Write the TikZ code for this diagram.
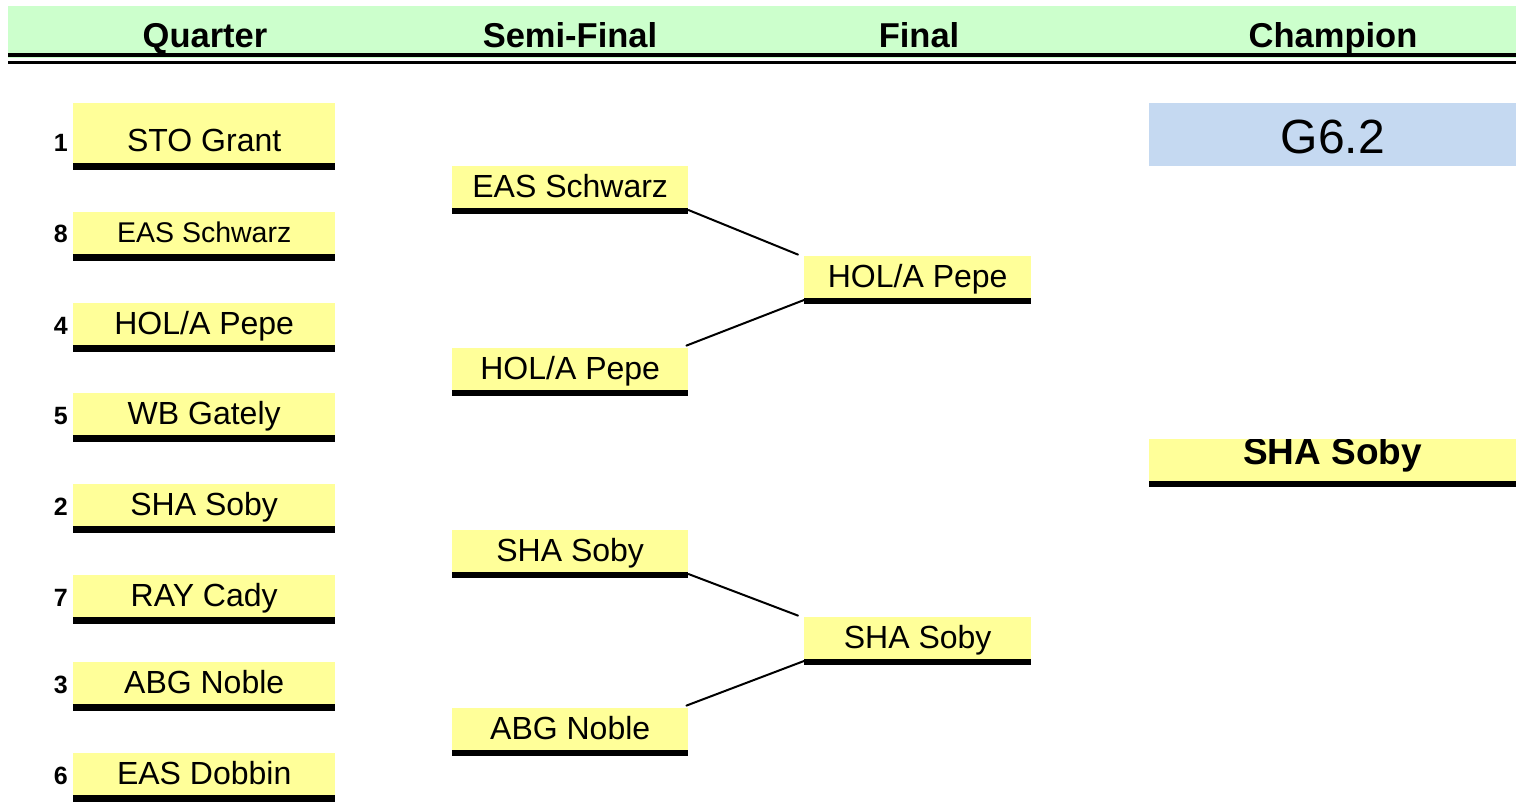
\documentclass[tikz,border=0pt]{standalone}
\usepackage{fontspec}
\setmainfont{Liberation Sans}
\usepackage{xcolor}
\usetikzlibrary{positioning}
\definecolor{headgreen}{RGB}{204,255,204}
\definecolor{teamyellow}{RGB}{255,255,153}
\definecolor{champblue}{RGB}{197,217,241}
\tikzset{
  % one pixel of the sheet is 1pt, y grows downwards
  team/.style={
    fill=teamyellow,
    inner sep=0pt,
    minimum height=42pt,
    text height=32pt,
    text depth=10pt,
    anchor=south west,
    font=\fontsize{32}{36}\selectfont
  },
  % the three rounds
  quarter/.style={team, minimum width=262pt},
  semi/.style={team, minimum width=236pt},
  final/.style={team, minimum width=227pt},
  % seed numbers
  seed/.style={anchor=base east, inner sep=0pt, font=\fontsize{25}{28}\selectfont\bfseries},
  % column titles
  head/.style={anchor=base, inner sep=0pt, font=\fontsize{34.5}{40}\selectfont\bfseries},
  % connectors
  link/.style={line width=2pt, line cap=round},
}

\begin{document}
\begin{tikzpicture}[x=1pt, y=-1pt]
    \useasboundingbox (0,0) rectangle (1527,807);

    % Header band
    \fill[headgreen] (8,6) rectangle (1516,58);
    \fill (8,53) rectangle (1516,57);
    \fill (8,61) rectangle (1516,64);
    \node[head] (hq) at (205,47) {Quarter};
    \node[head] (hs) at (570,47) {Semi-Final};
    \node[head] (hf) at (919,47) {Final};
    \node[head] (hc) at (1333,47) {Champion};

    % Quarter
    \node[quarter, minimum height=60pt, text height=49pt, text depth=11pt] (q1) at (73,163) {STO Grant};
    \node[quarter, text height=31pt, text depth=11pt, font=\fontsize{28.5}{32}\selectfont] (q2) at (73,254) {EAS Schwarz};
    \node[quarter] (q3) at (73,345) {HOL/A Pepe};
    \node[quarter] (q4) at (73,435) {WB Gately};
    \node[quarter] (q5) at (73,526) {SHA Soby};
    \node[quarter] (q6) at (73,617) {RAY Cady};
    \node[quarter] (q7) at (73,704) {ABG Noble};
    \node[quarter] (q8) at (73,795) {EAS Dobbin};
    \foreach \n/\s in {q1/1, q2/8, q3/4, q4/5, q5/2, q6/7, q7/3, q8/6} {
        \fill (\n.south west) rectangle ([yshift=-7pt]\n.south east);
        \node[seed] (seed\s) at ([xshift=-5pt]\n.base west) {\s};
    }

    % Semi-Final
    \node[semi] (s1) at (452,208) {EAS Schwarz};
    \node[semi] (s2) at (452,390) {HOL/A Pepe};
    \node[semi] (s3) at (452,572) {SHA Soby};
    \node[semi] (s4) at (452,750) {ABG Noble};

    % Final
    \node[final] (f1) at (804,298) {HOL/A Pepe};
    \node[final] (f2) at (804,659) {SHA Soby};
    \foreach \n in {s1, s2, s3, s4, f1, f2}
        \fill (\n.south west) rectangle ([yshift=-6pt]\n.south east);

    % Connectors
    \draw[link] ([yshift=-2pt]s1.south east) -- ([xshift=-6pt, yshift=1pt]f1.north west);
    \draw[link] ([xshift=-2pt, yshift=2pt]s2.north east) -- ([yshift=-2pt]f1.south west);
    \draw[link] ([yshift=-2pt]s3.south east) -- ([xshift=-6pt, yshift=1pt]f2.north west);
    \draw[link] ([xshift=-2pt, yshift=2pt]s4.north east) -- ([yshift=-2pt]f2.south west);

    % Champion
    \node[fill=champblue, inner sep=0pt, minimum width=367pt, minimum height=63pt,
          text height=50pt, text depth=13pt, anchor=north west,
          font=\fontsize{48}{54}\selectfont] (game) at (1149,103) {G6.2};
    \begin{scope}
        \clip (1149,439) rectangle (1516,481);
        \node[team, minimum width=367pt, text height=26pt, text depth=16pt,
              font=\fontsize{37}{42}\selectfont\bfseries] (champ) at (1149,481) {SHA Soby};
    \end{scope}
    \fill (champ.south west) rectangle ([yshift=-6pt]champ.south east);
\end{tikzpicture}
\end{document}
